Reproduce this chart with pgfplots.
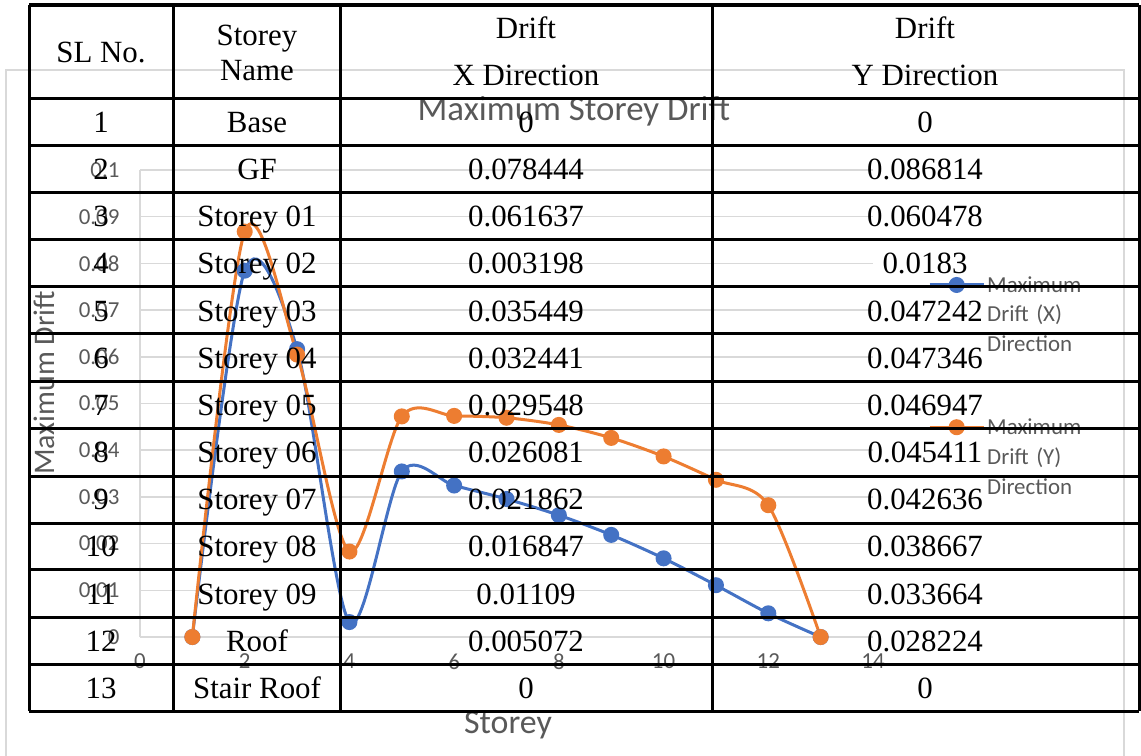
\documentclass[border=0pt]{standalone}
\usepackage{pgfplots}
\pgfplotsset{compat=1.18}
\usepackage{fontspec}
\setmainfont{Liberation Serif}
\newfontfamily\chartfont{Carlito}
\definecolor{xblue}{HTML}{4472C4}
\definecolor{yorange}{HTML}{ED7D31}
\definecolor{gridgray}{HTML}{D9D9D9}
\definecolor{txtgray}{HTML}{595959}
\begin{document}
\begin{tikzpicture}
\path[use as bounding box] (0bp,0bp) rectangle (1141bp,-756bp);
% chart area frame
\draw[gridgray, line width=1.5bp] (6bp,-756bp) -- (6bp,-70bp) -- (1124bp,-70bp) -- (1124bp,-756bp);
\begin{axis}[
  at={(140bp,-637bp)}, anchor=south west,
  scale only axis, width=733bp, height=467bp,
  xmin=0, xmax=14, ymin=0, ymax=0.1,
  xtick={0,2,4,6,8,10,12,14},
  ytick={0,0.01,0.02,0.03,0.04,0.05,0.06,0.07,0.08,0.09,0.1},
  scaled y ticks=false,
  axis x line=bottom, axis y line=left,
  axis line style={-, draw=gridgray, line width=1.5bp},
  ymajorgrids, grid style={gridgray, line width=1.5bp},
  major tick length=0pt,
  clip=false,
  /pgf/number format/assume math mode=true,
  yticklabel style={/pgf/number format/fixed, /pgf/number format/precision=2, font=\chartfont\fontsize{23}{27}\selectfont, text=txtgray, xshift=-17bp},
  xticklabel style={font=\chartfont\fontsize{23}{27}\selectfont, text=txtgray, yshift=-13bp},
  title={Maximum Storey Drift},
  title style={at={(axis description cs:0.592,1.113)}, anchor=center, font=\chartfont\fontsize{35}{42}\selectfont, text=txtgray},
  xlabel={Storey},
  xlabel style={at={(axis description cs:0.502,-0.188)}, anchor=center, font=\chartfont\fontsize{34}{40}\selectfont, text=txtgray},
  ylabel={Maximum Drift},
  ylabel style={at={(axis description cs:-0.13,0.544)}, anchor=center, font=\chartfont\fontsize{30}{36}\selectfont, text=txtgray},
  legend style={at={(axis description cs:1.075,0.777)}, anchor=north west, draw=none, fill=none, inner sep=0pt,
    font=\chartfont\fontsize{23}{30}\selectfont, text=txtgray, row sep=121bp, column sep=0bp,
    nodes={text width=120bp, align=left}},
  legend cell align=left,
  legend image code/.code={\draw[mark repeat=2,mark phase=2,#1] plot coordinates {(0bp,0bp)(27bp,0bp)(54bp,0bp)};},
]
\addplot[xblue, line width=3bp, smooth, mark=*, mark size=6.5bp, mark options={fill=xblue, draw=xblue}] coordinates {
 (1,0) (2,0.078444) (3,0.061637) (4,0.003198) (5,0.035449) (6,0.032441) (7,0.029548)
 (8,0.026081) (9,0.021862) (10,0.016847) (11,0.01109) (12,0.005072) (13,0)};
\addlegendentry{Maximum Drift (X) Direction}
\addplot[yorange, line width=3bp, smooth, mark=*, mark size=6.5bp, mark options={fill=yorange, draw=yorange}] coordinates {
 (1,0) (2,0.086814) (3,0.060478) (4,0.0183) (5,0.047242) (6,0.047346) (7,0.046947)
 (8,0.045411) (9,0.042636) (10,0.038667) (11,0.033664) (12,0.028224) (13,0)};
\addlegendentry{Maximum Drift (Y) Direction}
\end{axis}
% table overlay
\begin{scope}[x=1bp, y=-1bp]
\foreach \yy in {5,98,145,192,239,286,333,381,428,476,523,569,617,664,711}
  \draw[black, line width=3bp] (29,\yy) -- (1139,\yy);
\foreach \xx in {29,173,340,712,1139}
  \draw[black, line width=3bp] (\xx,5) -- (\xx,711);
\begin{scope}[every node/.style={font=\fontsize{31}{36}\selectfont, anchor=base, inner sep=0pt}]
\node at (101,62) {SL No.};
\node at (257,45) {Storey};
\node at (257,80) {Name};
\node at (526,38) {Drift};
\node at (526,85) {X Direction};
\node at (925,38) {Drift};
\node at (925,85) {Y Direction};
\foreach \i/\nm/\dx/\dy [count=\k from 0] in {
  1/Base/0/0,
  2/GF/0.078444/0.086814,
  3/Storey 01/0.061637/0.060478,
  4/Storey 02/0.003198/0.0183,
  5/Storey 03/0.035449/0.047242,
  6/Storey 04/0.032441/0.047346,
  7/Storey 05/0.029548/0.046947,
  8/Storey 06/0.026081/0.045411,
  9/Storey 07/0.021862/0.042636,
  10/Storey 08/0.016847/0.038667,
  11/Storey 09/0.01109/0.033664,
  12/Roof/0.005072/0.028224,
  13/Stair Roof/0/0}{
  \pgfmathsetmacro\by{121.5+47.15*\k+11}
  \node at (101,\by) {\i};
  \node at (257,\by) {\nm};
  \node at (526,\by) {\dx};
  \node at (925,\by) {\dy};
}
\end{scope}
\end{scope}
\end{tikzpicture}
\end{document}
